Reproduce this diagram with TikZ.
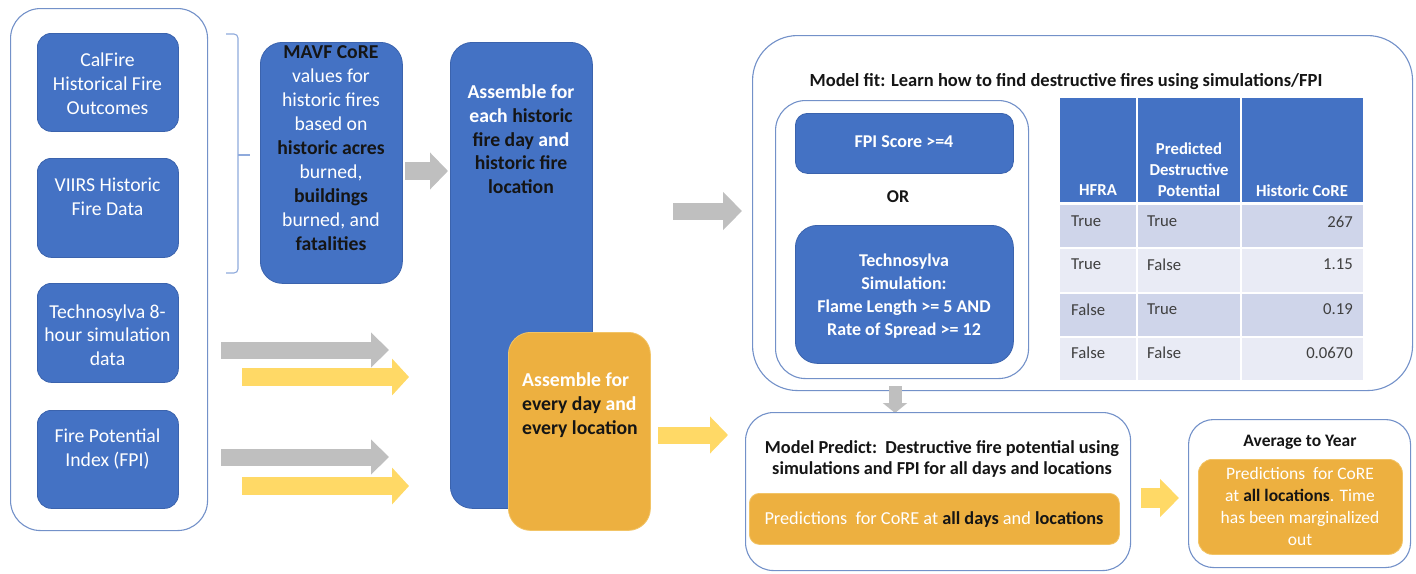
\documentclass[tikz,border=0pt]{standalone}
\usepackage{fontspec}
\setmainfont{Carlito}
\usetikzlibrary{arrows.meta}
\definecolor{blu}{HTML}{4472C4}
\definecolor{bluedge}{HTML}{3B63AD}
\definecolor{orng}{HTML}{EDB040}
\definecolor{orngedge}{HTML}{F2C466}
\definecolor{yarr}{HTML}{FFD966}
\definecolor{garr}{HTML}{BFBFBF}
\definecolor{cont}{HTML}{7391C9}
\definecolor{bracec}{HTML}{8FAADC}
\definecolor{rowa}{HTML}{CFD5EA}
\definecolor{rowb}{HTML}{E9EBF5}
\definecolor{tabtxt}{HTML}{3F3F3F}
\definecolor{dark}{HTML}{151515}
\newcommand\fs[2]{\fontsize{#1}{#2}\selectfont}
\newcommand\bk[1]{\textbf{\color{dark}#1}}
\tikzset{
  container/.style={rectangle, draw=cont, line width=1.1pt, fill=white, anchor=north west, inner sep=0pt},
  bluebox/.style={rectangle, fill=blu, draw=bluedge, line width=0.8pt, anchor=north west, inner sep=0pt},
  orangebox/.style={rectangle, fill=orng, draw=orngedge, line width=0.8pt, anchor=north west, inner sep=0pt},
  txt/.style={inner sep=0pt, anchor=north, align=center},
  wtxt/.style={txt, text=white},
  garrow/.style={draw=garr, line width=#1},
  yarrow/.style={draw=yarr, line width=#1},
}
\begin{document}
\begin{tikzpicture}[x=1pt,y=-1pt]
\useasboundingbox (0,0) rectangle (1416,573);

% ---------- left container with sources ----------
\node[container, rounded corners=30pt, minimum width=197pt, minimum height=522pt] (leftc) at (10,8) {};
\node[bluebox, rounded corners=14pt, minimum width=141pt, minimum height=98pt] (calfire) at (37,33) {};
\node[bluebox, rounded corners=14pt, minimum width=141pt, minimum height=99pt] (viirs) at (37,158) {};
\node[bluebox, rounded corners=14pt, minimum width=141pt, minimum height=99pt] (techno) at (37,283) {};
\node[bluebox, rounded corners=14pt, minimum width=141pt, minimum height=98pt] (fpi) at (37,410) {};
\node[wtxt, font=\fs{19.7}{24}] (calfireT) at (107.5,52.5) {CalFire\\Historical Fire\\Outcomes};
\node[wtxt, font=\fs{19.7}{24}] (viirsT) at (107.5,177.5) {VIIRS Historic\\Fire Data};
\node[wtxt, font=\fs{19.7}{23.5}] (technoT) at (107.5,304.5) {Technosylva 8-\\hour simulation\\data};
\node[wtxt, font=\fs{19.7}{24}] (fpiT) at (107.5,428.5) {Fire Potential\\Index (FPI)};

% brace
\draw[bracec, line width=1.1pt, rounded corners=4pt] (226,34) -- (238,34) -- (238,273) -- (226,273);
\draw[bracec, line width=1.1pt] (238,155) -- (250,155);

% ---------- MAVF ----------
\node[bluebox, rounded corners=22pt, minimum width=142pt, minimum height=241pt] (mavf) at (260,42) {};
\node[wtxt, font=\fs{19.7}{24}] (mavfT) at (331,45.5) {\bk{MAVF CoRE}\\values for\\historic fires\\based on\\\bk{historic acres}\\burned,\\\bk{buildings}\\burned, and\\\bk{fatalities}};

% ---------- Assemble boxes ----------
\node[bluebox, rounded corners=22pt, minimum width=142pt, minimum height=466pt] (asmb) at (450,42) {};
\node[wtxt, font=\fs{19.7}{23.8}\bfseries] (asmbT) at (521,84.5) {Assemble for\\each \bk{historic}\\\bk{fire day} and\\\bk{historic fire}\\\bk{location}};
\node[orangebox, rounded corners=22pt, minimum width=142pt, minimum height=198pt] (asmo) at (508,332) {};
\node[wtxt, anchor=north west, align=left, font=\fs{19.7}{24}\bfseries] (asmoT) at (522,372.5) {Assemble for\\\bk{every day} and\\\bk{every location}};

% ---------- block arrows ----------
\coordinate (g1s) at (221,350); \coordinate (g1e) at (389,350);
\coordinate (y1s) at (242,377); \coordinate (y1e) at (409,377);
\coordinate (g2s) at (221,457); \coordinate (g2e) at (389,457);
\coordinate (y2s) at (242,486); \coordinate (y2e) at (409,486);
\coordinate (g3s) at (405,171); \coordinate (g3e) at (448,171);
\coordinate (g4s) at (673,211); \coordinate (g4e) at (742,211);
\coordinate (y3s) at (658,435); \coordinate (y3e) at (728,435);
\coordinate (g5s) at (895,386); \coordinate (g5e) at (895,413);
\coordinate (y4s) at (1141,498); \coordinate (y4e) at (1179,498);
\draw[garrow=17pt, -{Triangle[width=34pt,length=18pt]}] (g1s) -- (g1e);
\draw[yarrow=18pt, -{Triangle[width=36pt,length=17pt]}] (y1s) -- (y1e);
\draw[garrow=17pt, -{Triangle[width=34pt,length=18pt]}] (g2s) -- (g2e);
\draw[yarrow=18pt, -{Triangle[width=36pt,length=17pt]}] (y2s) -- (y2e);
\draw[garrow=18pt, -{Triangle[width=36pt,length=18pt]}] (g3s) -- (g3e);
\draw[garrow=17pt, -{Triangle[width=37pt,length=19pt]}] (g4s) -- (g4e);
\draw[yarrow=17pt, -{Triangle[width=36pt,length=18pt]}] (y3s) -- (y3e);
\draw[yarrow=20pt, -{Triangle[width=37pt,length=19pt]}] (y4s) -- (y4e);

% ---------- Model fit ----------
\node[container, rounded corners=45pt, minimum width=660pt, minimum height=355pt] (fitc) at (752,35) {};
\node[txt, text=dark, font=\fs{18.5}{21}\bfseries] (fitT) at (1066,73) {Model fit: Learn how to find destructive fires using simulations/FPI};
\node[container, rounded corners=30pt, minimum width=253pt, minimum height=278pt] (inner) at (775,100) {};
\node[bluebox, rounded corners=12pt, minimum width=218pt, minimum height=60pt] (fpis) at (795,113) {};
\node[wtxt, font=\fs{18}{23}\bfseries] (fpisT) at (904,135.2) {FPI Score >=4};
\node[txt, text=dark, font=\fs{18}{23}\bfseries] (orT) at (898,190.2) {OR};
\node[bluebox, rounded corners=22pt, minimum width=218pt, minimum height=138pt] (tsim) at (795,225) {};
\node[wtxt, font=\fs{18}{23}\bfseries] (tsimT) at (904,253.2) {Technosylva\\Simulation:\\Flame Length >= 5 AND\\Rate of Spread >= 12};

% table
\fill[blu] (1060,98) rectangle (1363,203);
\fill[rowa] (1060,203) rectangle (1363,248);
\fill[rowb] (1060,248) rectangle (1363,293);
\fill[rowa] (1060,293) rectangle (1363,337);
\fill[rowb] (1060,337) rectangle (1363,380);
\draw[white, line width=2pt] (1137,98) -- (1137,380) (1241,98) -- (1241,380);
\draw[white, line width=3pt] (1060,203) -- (1363,203);
\draw[white, line width=1.5pt] (1060,248) -- (1363,248) (1060,293) -- (1363,293) (1060,337) -- (1363,337);
\node[wtxt, font=\fs{16.7}{21}\bfseries] (h1) at (1098,184.7) {HFRA};
\node[wtxt, font=\fs{16.7}{21}\bfseries] (h2) at (1189,142.7) {Predicted\\Destructive\\Potential};
\node[wtxt, font=\fs{16.7}{21}\bfseries] (h3) at (1302,184.7) {Historic CoRE};
\tikzset{cell/.style={inner sep=0pt, text=tabtxt, font=\fs{16.7}{21}}}
\node[cell, anchor=north west] (r1a) at (1071,215.7) {True};
\node[cell, anchor=north west] (r1b) at (1147,215.7) {True};
\node[cell, anchor=north east] (r1c) at (1353,215.7) {267};
\node[cell, anchor=north west] (r2a) at (1071,258.7) {True};
\node[cell, anchor=north west] (r2b) at (1147,258.7) {False};
\node[cell, anchor=north east] (r2c) at (1353,258.7) {1.15};
\node[cell, anchor=north west] (r3a) at (1071,303.7) {False};
\node[cell, anchor=north west] (r3b) at (1147,303.7) {True};
\node[cell, anchor=north east] (r3c) at (1353,303.7) {0.19};
\node[cell, anchor=north west] (r4a) at (1071,346.7) {False};
\node[cell, anchor=north west] (r4b) at (1147,346.7) {False};
\node[cell, anchor=north east] (r4c) at (1353,346.7) {0.0670};

% down arrow fit -> predict
\draw[garrow=13pt, -{Triangle[width=24pt,length=10pt]}] (g5s) -- (g5e);

% ---------- Model predict ----------
\node[container, rounded corners=28pt, minimum width=385pt, minimum height=158pt] (predc) at (745,412) {};
\node[txt, text=dark, font=\fs{18.3}{21.5}\bfseries] (predT) at (942,440) {Model Predict:\ \ Destructive fire potential using\\simulations and FPI for all days and locations};
\node[orangebox, rounded corners=10pt, minimum width=370pt, minimum height=51pt] (predo) at (749,493) {};
\node[wtxt, font=\fs{18.3}{21}] (predoT) at (934,511) {Predictions\ \ for CoRE at \bk{all days} and \bk{locations}};

% ---------- Average to year ----------
\node[container, rounded corners=25pt, minimum width=222pt, minimum height=148pt] (avgc) at (1188,419) {};
\node[txt, text=dark, font=\fs{17.5}{21}\bfseries] (avgT) at (1300,435.4) {Average to Year};
\node[orangebox, rounded corners=14pt, minimum width=204pt, minimum height=95pt] (avgo) at (1198,459) {};
\node[wtxt, font=\fs{17.5}{22}] (avgoT) at (1300,467.4) {Predictions\ \ for CoRE\\at \bk{all locations}. Time\\has been marginalized\\out};
\end{tikzpicture}
\end{document}
